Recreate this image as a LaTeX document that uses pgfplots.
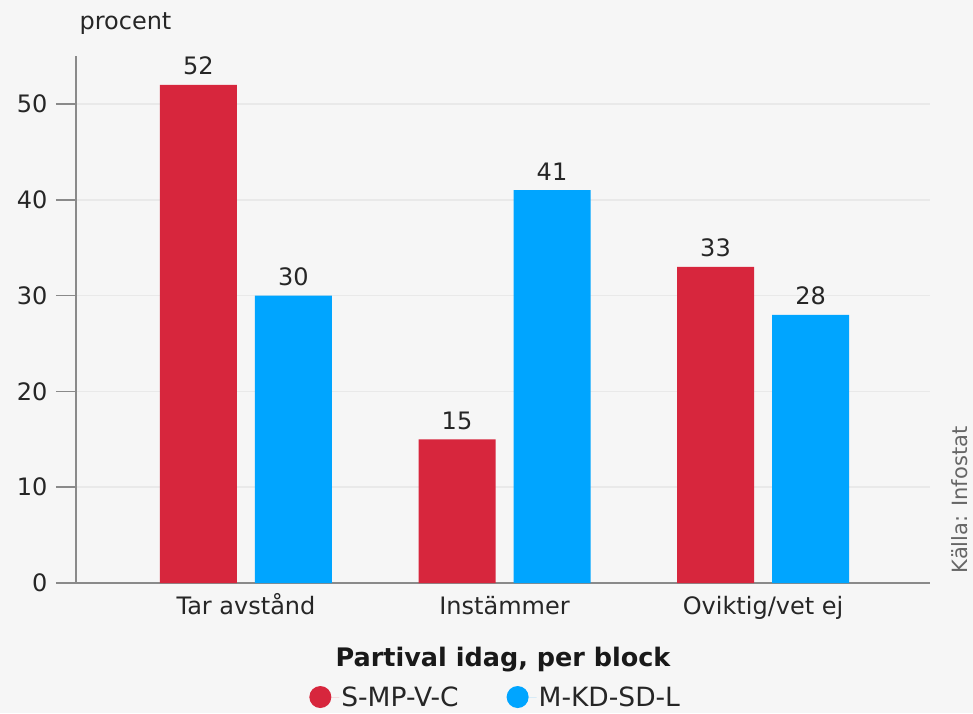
\documentclass[border=0pt]{standalone}
\usepackage{fontspec}
\setmainfont{DejaVu Sans}
\usepackage{pgfplots}
\pgfplotsset{compat=1.18}
\definecolor{bg}{HTML}{F6F6F6}
\definecolor{cred}{HTML}{D7263D}
\definecolor{cblue}{HTML}{00A5FF}
\definecolor{axgray}{HTML}{8A8A8A}
\definecolor{gridgray}{HTML}{E9E9E9}
\begin{document}
\begin{tikzpicture}[x=1pt,y=1pt]
\fill[bg] (0,0) rectangle (973,713);
\begin{axis}[
  at={(76pt,130pt)}, anchor=south west,
  scale only axis, width=854pt, height=526.9pt,
  xmin=-0.6576, xmax=2.646, ymin=0, ymax=55,
  axis x line*=bottom, axis y line*=left,
  axis line style={axgray, line width=1.6pt},
  ytick={0,10,20,30,40,50},
  xtick={0,1,2},
  xticklabels={Tar avstånd, Instämmer, Oviktig/vet ej},
  tick align=outside, major tick length=20pt,
  y tick style={axgray, line width=1.6pt},
  x tick style={draw=none},
  ymajorgrids, grid style={gridgray, line width=1.6pt},
  tick label style={font=\fontsize{24}{28}\selectfont, text=black!85},
  /pgf/number format/assume math mode=true,
  xticklabel style={anchor=base, yshift=-11pt},
  yticklabel style={xshift=-5pt},
  legend style={at={(axis description cs:0.273,-0.2164)}, anchor=west, draw=none, fill=none,
    font=\fontsize{26.5}{30}\selectfont, text=black!85, inner sep=0pt,
    /tikz/every even column/.append style={column sep=46pt}},
  legend columns=2,
  clip=false,
]
\addplot[ybar, bar width=77pt, bar shift=-47.5pt, fill=cred, draw=none,
  nodes near coords,
  every node near coord/.append style={font=\fontsize{24}{28}\selectfont, text=black!85, anchor=base, yshift=10pt, xshift=-47.5pt},
  legend image code/.code={\path (0pt,0pt) -- (30pt,0pt);\fill[cred] (11pt,0pt) circle (11pt);}]
  coordinates {(0,52) (1,15) (2,33)};
\addlegendentry{S-MP-V-C}
\addplot[ybar, bar width=77pt, bar shift=47.5pt, fill=cblue, draw=none,
  nodes near coords,
  every node near coord/.append style={font=\fontsize{24}{28}\selectfont, text=black!85, anchor=base, yshift=10pt, xshift=47.5pt},
  legend image code/.code={\path (0pt,0pt) -- (30pt,0pt);\fill[cblue] (11pt,0pt) circle (11pt);}]
  coordinates {(0,30) (1,41) (2,28)};
\addlegendentry{M-KD-SD-L}
\draw[axgray, line width=1.6pt] (rel axis cs:0,0) -- ++(-20pt,0pt);
\end{axis}
\node[anchor=base west, font=\fontsize{24}{28}\selectfont, text=black!85] at (76,683) {procent};
\node[anchor=base, font=\bfseries\fontsize{25.5}{30}\selectfont, text=black!90] at (503,47) {Partival idag, per block};
\node[rotate=90, anchor=center, font=\fontsize{21}{24}\selectfont, text=black!60] at (960,213) {Källa: Infostat};
\end{tikzpicture}
\end{document}
